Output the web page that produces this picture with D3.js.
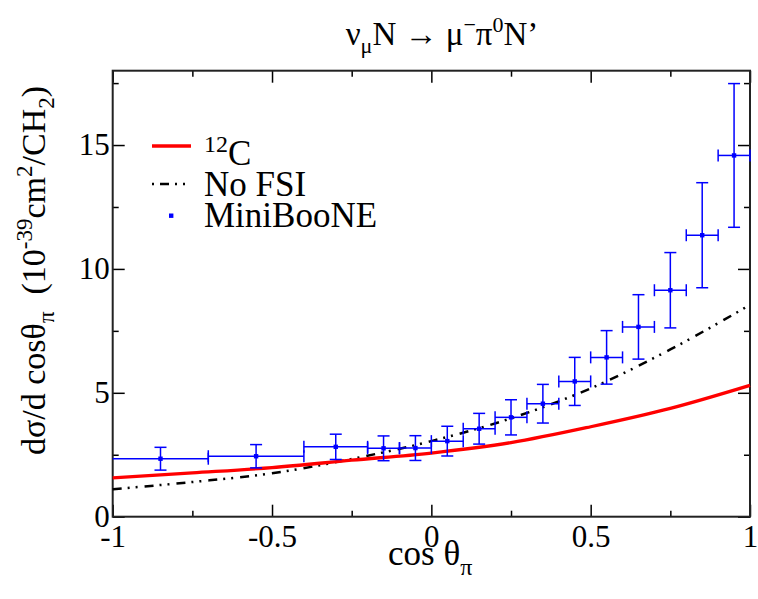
<!DOCTYPE html>
<html>
<head>
<meta charset="utf-8">
<script src="https://cdn.jsdelivr.net/npm/d3@7"></script>
</head>
<body style="margin:0;background:#fff">
<svg id="chart" width="758" height="599" style="font-family:'Liberation Serif'"></svg>
<script>
// MiniBooNE data: bin edges, bin centres, cross section and errors
const binLo  = [-1.0, -0.7, -0.4, -0.2, -0.1, 0.0, 0.1, 0.2, 0.3, 0.4, 0.5, 0.6, 0.7, 0.8, 0.9];
const binHi  = [-0.7, -0.4, -0.2, -0.1, 0.0, 0.1, 0.2, 0.3, 0.4, 0.5, 0.6, 0.7, 0.8, 0.9, 1.0];
const binMid = [-0.85, -0.55, -0.3, -0.15, -0.05, 0.05, 0.15, 0.25, 0.35, 0.45, 0.55, 0.65, 0.75, 0.85, 0.95];
const dataVal = [2.34, 2.44, 2.82, 2.76, 2.77, 3.05, 3.55, 4.01, 4.56, 5.46, 6.43, 7.66, 9.14, 11.36, 14.58];
const dataErr = [0.46, 0.47, 0.51, 0.50, 0.50, 0.60, 0.62, 0.71, 0.78, 0.97, 1.08, 1.30, 1.52, 2.12, 2.90];

// Model curves
const curveCos   = [-1.0, -0.75, -0.5, -0.25, 0.0, 0.25, 0.5, 0.75, 1.0];
const carbonVal  = [1.57, 1.77, 1.98, 2.28, 2.57, 2.99, 3.63, 4.37, 5.30];
const noFsiVal   = [1.11, 1.40, 1.75, 2.33, 3.05, 3.97, 5.18, 6.75, 8.55];

// Axis ticks
const xMajor = [-1, -0.5, 0, 0.5, 1];
const xMinor = [-0.75, -0.25, 0.25, 0.75];
const yMajor = [0, 5, 10, 15];
const yMinor = [2.5, 7.5, 12.5, 17.5];

const svg = d3.select("#chart");
const L = 112.7, R = 750, T = 70.7, B = 516.7;

const x = d3.scaleLinear().domain([-1, 1]).range([L, R]);
const y = d3.scaleLinear().domain([0, 18]).range([B, T]);

const fmt = d => d === 0 ? "0" : String(d);

// Minor ticks on all four sides
function minorAxis(gen, scale, ticks) {
  return gen(scale).tickValues(ticks).tickSize(-6).tickFormat("");
}
const axes = svg.append("g").attr("class", "axes");
axes.append("g").attr("transform", `translate(0,${B})`).call(minorAxis(d3.axisBottom, x, xMinor));
axes.append("g").attr("transform", `translate(0,${T})`).call(minorAxis(d3.axisTop, x, xMinor));
axes.append("g").attr("transform", `translate(${L},0)`).call(minorAxis(d3.axisLeft, y, yMinor));
axes.append("g").attr("transform", `translate(${R},0)`).call(minorAxis(d3.axisRight, y, yMinor));
// Major ticks
axes.append("g").attr("transform", `translate(0,${B})`)
  .call(d3.axisBottom(x).tickValues(xMajor).tickSize(-12).tickPadding(8).tickFormat(fmt));
axes.append("g").attr("transform", `translate(0,${T})`)
  .call(d3.axisTop(x).tickValues(xMajor).tickSize(-12).tickFormat(""));
axes.append("g").attr("transform", `translate(${L},0)`)
  .call(d3.axisLeft(y).tickValues(yMajor).tickSize(-12).tickPadding(3).tickFormat(fmt));
axes.append("g").attr("transform", `translate(${R},0)`)
  .call(d3.axisRight(y).tickValues(yMajor).tickSize(-12).tickFormat(""));
axes.selectAll(".domain").remove();
axes.selectAll("g").attr("font-family", null).attr("font-size", null);
axes.selectAll(".tick line").attr("stroke", "#000").attr("stroke-width", 1.5);
axes.selectAll(".tick text").attr("font-size", 31).attr("fill", "#000");

// Frame
svg.append("rect").attr("x", L).attr("y", T).attr("width", R - L).attr("height", B - T)
  .attr("fill", "none").attr("stroke", "#222").attr("stroke-width", 2);

// Curves
const line = d3.line().x(d => x(d[0])).y(d => y(d[1])).curve(d3.curveMonotoneX);
svg.append("path").datum(curveCos.map((c, i) => [c, noFsiVal[i]]))
  .attr("d", line).attr("fill", "none").attr("stroke", "#000")
  .attr("stroke-width", 2.5).attr("stroke-dasharray", "9,6,2,6,2,7");
svg.append("path").datum(curveCos.map((c, i) => [c, carbonVal[i]]))
  .attr("d", line).attr("fill", "none").attr("stroke", "#ff0000").attr("stroke-width", 3.3);

// Data with error bars
const blue = "#0000ff";
const pts = svg.append("g").attr("stroke", blue).attr("stroke-width", 1.5).attr("fill", "none");
binMid.forEach((c, i) => {
  const g = pts.append("g");
  const xc = x(c), yc = y(dataVal[i]);
  const yt = y(dataVal[i] + dataErr[i]), yb = y(dataVal[i] - dataErr[i]);
  const xl = x(binLo[i]), xr = x(binHi[i]);
  const cap = 6;
  g.append("line").attr("x1", xc).attr("x2", xc).attr("y1", yt).attr("y2", yb);
  g.append("line").attr("x1", xc - cap).attr("x2", xc + cap).attr("y1", yt).attr("y2", yt);
  g.append("line").attr("x1", xc - cap).attr("x2", xc + cap).attr("y1", yb).attr("y2", yb);
  g.append("line").attr("x1", xl).attr("x2", xr).attr("y1", yc).attr("y2", yc);
  if (binLo[i] > -1) g.append("line").attr("x1", xl).attr("x2", xl).attr("y1", yc - cap).attr("y2", yc + cap);
  g.append("line").attr("x1", xr).attr("x2", xr).attr("y1", yc - cap).attr("y2", yc + cap);
  g.append("rect").attr("x", xc - 2.2).attr("y", yc - 2.2).attr("width", 4.4).attr("height", 4.4)
    .attr("fill", blue).attr("stroke", "none");
});

function label(sel) { return sel.append("text").attr("fill", "#000"); }

// Legend
const lg = svg.append("g");
lg.append("line").attr("x1", 152).attr("x2", 191).attr("y1", 146).attr("y2", 146)
  .attr("stroke", "#ff0000").attr("stroke-width", 3.3);
const t1 = label(lg).attr("x", 204).attr("y", 165).attr("font-size", 35);
t1.append("tspan").attr("font-size", 24).attr("dy", -13).text("12");
t1.append("tspan").attr("dy", 13).text("C");
lg.append("line").attr("x1", 152).attr("x2", 187).attr("y1", 184).attr("y2", 184)
  .attr("stroke", "#000").attr("stroke-width", 2.5).attr("stroke-dasharray", "2,6,9,6,2,6,2");
label(lg).attr("x", 204).attr("y", 196).attr("font-size", 35).text("No FSI");
lg.append("rect").attr("x", 169).attr("y", 213.5).attr("width", 4.4).attr("height", 4.4).attr("fill", blue);
label(lg).attr("x", 204).attr("y", 227).attr("font-size", 35).text("MiniBooNE");

// Title
const title = label(svg).attr("x", 442).attr("y", 45).attr("font-size", 33).attr("text-anchor", "middle");
title.append("tspan").text("ν");
title.append("tspan").attr("font-size", 22).attr("dy", 8).text("μ");
title.append("tspan").attr("dy", -8).text("N → μ");
title.append("tspan").attr("font-size", 22).attr("dy", -13).text("−");
title.append("tspan").attr("dy", 13).text("π");
title.append("tspan").attr("font-size", 22).attr("dy", -13).text("0");
title.append("tspan").attr("dy", 13).text("N’");

// X axis title
const xt = label(svg).attr("x", 388).attr("y", 565).attr("font-size", 35);
xt.append("tspan").text("cos θ");
xt.append("tspan").attr("font-size", 24).attr("dy", 10).text("π");

// Y axis title
const yt = label(svg).attr("transform", "translate(45,455) rotate(-90)").attr("font-size", 34);
yt.append("tspan").text("dσ/d cosθ");
yt.append("tspan").attr("font-size", 23).attr("dy", 9).text("π");
yt.append("tspan").attr("dy", -9).text("\u00a0\u00a0(10");
yt.append("tspan").attr("font-size", 23).attr("dy", -13).text("-39");
yt.append("tspan").attr("dy", 13).text("cm");
yt.append("tspan").attr("font-size", 23).attr("dy", -13).text("2");
yt.append("tspan").attr("dy", 13).text("/CH");
yt.append("tspan").attr("font-size", 23).attr("dy", 9).text("2");
yt.append("tspan").attr("dy", -9).text(")");

// Serif face on every label
svg.selectAll("text, tspan").style("font-family", "'Liberation Serif'");
</script>
</body>
</html>
